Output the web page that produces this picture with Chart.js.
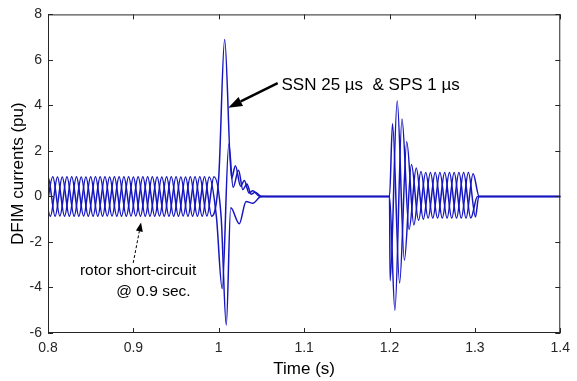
<!DOCTYPE html>
<html>
<head>
<meta charset="utf-8">
<script src="https://cdn.jsdelivr.net/npm/chart.js@4.4.1/dist/chart.umd.min.js"></script>
<style>
  html, body { margin: 0; padding: 0; background: #fff; }
  canvas { display: block; }
</style>
</head>
<body>
<canvas id="dfimCanvas" width="577" height="381"></canvas>
<script>
// DFIM phase currents, [time (s), current (pu)] at each peak / trough

// steady state before the rotor short-circuit
const iaPre = [[0.7917,-0.87],[0.8000,0.87],[0.8083,-0.87],[0.8167,0.86],[0.8250,-0.87],[0.8333,0.87],[0.8417,-0.86],[0.8500,0.87],[0.8583,-0.87],[0.8667,0.87],[0.8750,-0.86],[0.8833,0.87],[0.8917,-0.87],[0.9000,0.86],[0.9083,-0.87],[0.9167,0.87],[0.9250,-0.87],[0.9333,0.86],[0.9417,-0.87],[0.9500,0.87],[0.9583,-0.86],[0.9667,0.87],[0.9750,-0.87],[0.9833,0.87],[0.9917,-0.87],[1.0000,0.86]];
const ibPre = [[0.7972,-0.87],[0.8056,0.87],[0.8139,-0.86],[0.8222,0.87],[0.8306,-0.87],[0.8389,0.86],[0.8472,-0.87],[0.8556,0.87],[0.8639,-0.87],[0.8722,0.86],[0.8806,-0.87],[0.8889,0.87],[0.8972,-0.86],[0.9056,0.87],[0.9139,-0.87],[0.9222,0.87],[0.9306,-0.86],[0.9389,0.87],[0.9472,-0.87],[0.9556,0.86],[0.9639,-0.87],[0.9722,0.87],[0.9806,-0.87],[0.9889,0.86],[0.9972,-0.87]];
const icPre = [[0.7944,0.87],[0.8028,-0.87],[0.8111,0.86],[0.8194,-0.87],[0.8278,0.87],[0.8361,-0.87],[0.8444,0.86],[0.8528,-0.87],[0.8611,0.87],[0.8694,-0.86],[0.8778,0.87],[0.8861,-0.87],[0.8944,0.87],[0.9028,-0.86],[0.9111,0.87],[0.9194,-0.87],[0.9278,0.86],[0.9361,-0.87],[0.9444,0.87],[0.9528,-0.87],[0.9611,0.86],[0.9694,-0.87],[0.9778,0.87],[0.9861,-0.86],[0.9944,0.87]];

// transient after the fault at t = 1 s
const iaFault = [[1.0069,6.9],[1.0150,0.8],[1.0195,1.35],[1.0255,0.45],[1.0300,0.7],[1.0355,0.15],[1.0400,0.25],[1.0470,0.02],[1.0550,0]];
const ibFault = [[1.0040,-4.05],[1.0118,2.3],[1.0168,0.4],[1.0232,1.15],[1.0282,0.3],[1.0330,0.55],[1.0378,0.1],[1.0425,0.18],[1.0500,0]];
const icFault = [[1.0028,-0.9],[1.0088,-5.65],[1.0140,-0.5],[1.0240,-1.2],[1.0320,-0.22],[1.0400,-0.3],[1.0480,-0.03],[1.0530,0]];

// second event, 1.2 s to 1.3 s
const iaBurst = [[1.2000,0],[1.2035,3.2],[1.2118,-3.8],[1.2202,2.4],[1.2285,-1.25],[1.2368,1.1],[1.2452,-0.95],[1.2535,1.05],[1.2618,-0.95],[1.2702,1.05],[1.2785,-0.95],[1.2868,1.05],[1.2952,-0.95],[1.3030,0],[1.4100,0]];
const ibBurst = [[1.2000,0],[1.2007,-3.7],[1.2090,4.2],[1.2174,-2.8],[1.2257,1.4],[1.2340,-1.05],[1.2424,1.05],[1.2507,-0.95],[1.2590,1.05],[1.2674,-0.95],[1.2757,1.05],[1.2840,-0.95],[1.2924,1.05],[1.3007,-0.9],[1.3045,0],[1.4100,0]];
const icBurst = [[1.2000,0],[1.2063,-5.0],[1.2146,3.4],[1.2229,-1.45],[1.2313,1.25],[1.2396,-1.0],[1.2479,1.05],[1.2563,-0.95],[1.2646,1.05],[1.2729,-0.95],[1.2813,1.05],[1.2896,-0.95],[1.2979,1.0],[1.3050,0],[1.4100,0]];

const xTicks = [0.8, 0.9, 1.0, 1.1, 1.2, 1.3, 1.4];
const xTickLabels = ["0.8", "0.9", "1", "1.1", "1.2", "1.3", "1.4"];
const yTicks = [-6, -4, -2, 0, 2, 4, 6, 8];
const yTickLabels = ["-6", "-4", "-2", "0", "2", "4", "6", "8"];

const axisColor = "#262626";
const lineColor = "#1616c0";
const fontFamily = "'Liberation Sans', Arial, sans-serif";

// box round the plot with inward tick marks on all four sides
const boxTicks = {
    id: "boxTicks",
    afterDraw(chart) {
        const { ctx, chartArea: a, scales: { x, y } } = chart;
        ctx.save();
        ctx.strokeStyle = axisColor;
        ctx.lineWidth = 1;
        ctx.strokeRect(a.left + 0.5, a.top + 0.5, a.right - a.left - 1, a.bottom - a.top - 1);
        ctx.beginPath();
        x.ticks.forEach(t => {
            const px = Math.round(x.getPixelForValue(t.value)) + 0.5;
            ctx.moveTo(px, a.bottom); ctx.lineTo(px, a.bottom - 5);
            ctx.moveTo(px, a.top); ctx.lineTo(px, a.top + 5);
        });
        y.ticks.forEach(t => {
            const py = Math.round(y.getPixelForValue(t.value)) + 0.5;
            ctx.moveTo(a.left, py); ctx.lineTo(a.left + 5, py);
            ctx.moveTo(a.right, py); ctx.lineTo(a.right - 5, py);
        });
        ctx.stroke();
        ctx.restore();
    }
};

function arrow(ctx, x0, y0, x1, y1, lw, headLen, headW, dash) {
    const ang = Math.atan2(y1 - y0, x1 - x0);
    const bx = x1 - headLen * Math.cos(ang), by = y1 - headLen * Math.sin(ang);
    ctx.save();
    ctx.lineWidth = lw;
    ctx.setLineDash(dash);
    ctx.beginPath();
    ctx.moveTo(x0, y0);
    ctx.lineTo(bx, by);
    ctx.stroke();
    ctx.setLineDash([]);
    ctx.beginPath();
    ctx.moveTo(x1, y1);
    ctx.lineTo(bx + headW / 2 * Math.sin(ang), by - headW / 2 * Math.cos(ang));
    ctx.lineTo(bx - headW / 2 * Math.sin(ang), by + headW / 2 * Math.cos(ang));
    ctx.closePath();
    ctx.fill();
    ctx.restore();
}

// text notes and arrows, placed in data coordinates
const notes = {
    id: "notes",
    afterDraw(chart) {
        const { ctx, scales: { x, y } } = chart;
        ctx.save();
        ctx.fillStyle = "#000";
        ctx.strokeStyle = "#000";
        ctx.textBaseline = "middle";

        ctx.font = "17px " + fontFamily;
        ctx.textAlign = "left";
        ctx.fillText("SSN 25 µs  & SPS 1 µs", x.getPixelForValue(1.0735), y.getPixelForValue(4.87));
        arrow(ctx, x.getPixelForValue(1.069), y.getPixelForValue(4.98),
              x.getPixelForValue(1.0111), y.getPixelForValue(3.9), 2.5, 14, 10, []);

        ctx.font = "15.5px " + fontFamily;
        ctx.textAlign = "center";
        ctx.fillText("rotor short-circuit", x.getPixelForValue(0.9055), y.getPixelForValue(-3.28));
        ctx.fillText("@ 0.9 sec.", x.getPixelForValue(0.9235), y.getPixelForValue(-4.2));
        arrow(ctx, x.getPixelForValue(0.8998), y.getPixelForValue(-2.92),
              x.getPixelForValue(0.9090), y.getPixelForValue(-1.14), 1, 9, 7, [3, 2]);
        ctx.restore();
    }
};

function phase(pts) {
    return {
        data: pts,
        borderColor: lineColor,
        borderWidth: 1.5,
        pointRadius: 0,
        fill: false,
        cubicInterpolationMode: "monotone"
    };
}

const dfimChart = new Chart(document.getElementById("dfimCanvas"), {
    type: "line",
    data: {
        datasets: [
            phase(iaPre.concat(iaFault, iaBurst)),
            phase(ibPre.concat(ibFault, ibBurst)),
            phase(icPre.concat(icFault, icBurst))
        ]
    },
    options: {
        responsive: false,
        devicePixelRatio: 1,
        animation: false,
        layout: { padding: { top: 10, right: 9, left: 0, bottom: 0 }, autoPadding: false },
        plugins: { legend: { display: false }, tooltip: { enabled: false } },
        scales: {
            x: {
                type: "linear",
                min: 0.8,
                max: 1.4,
                afterBuildTicks: s => { s.ticks = xTicks.map(v => ({ value: v })); },
                afterFit: s => { s.height = 48; },
                ticks: {
                    callback: (v, i) => xTickLabels[i],
                    color: axisColor,
                    font: { size: 14, family: fontFamily },
                    padding: 7,
                    maxRotation: 0,
                    autoSkip: false
                },
                grid: { drawOnChartArea: false, drawTicks: false },
                border: { display: false },
                title: {
                    display: true,
                    text: "Time (s)",
                    color: "#000",
                    font: { size: 17, family: fontFamily },
                    padding: { top: 0, bottom: 1 }
                }
            },
            y: {
                min: -6,
                max: 8,
                afterBuildTicks: s => { s.ticks = yTicks.map(v => ({ value: v })); },
                afterFit: s => { s.width = 48; },
                ticks: {
                    callback: (v, i) => yTickLabels[i],
                    color: axisColor,
                    font: { size: 14, family: fontFamily },
                    padding: 6,
                    autoSkip: false
                },
                grid: { drawOnChartArea: false, drawTicks: false },
                border: { display: false },
                title: {
                    display: true,
                    text: "DFIM currents (pu)",
                    color: "#000",
                    font: { size: 17, family: fontFamily },
                    padding: { top: 8, bottom: 0 }
                }
            }
        }
    },
    plugins: [boxTicks, notes]
});
</script>
</body>
</html>
